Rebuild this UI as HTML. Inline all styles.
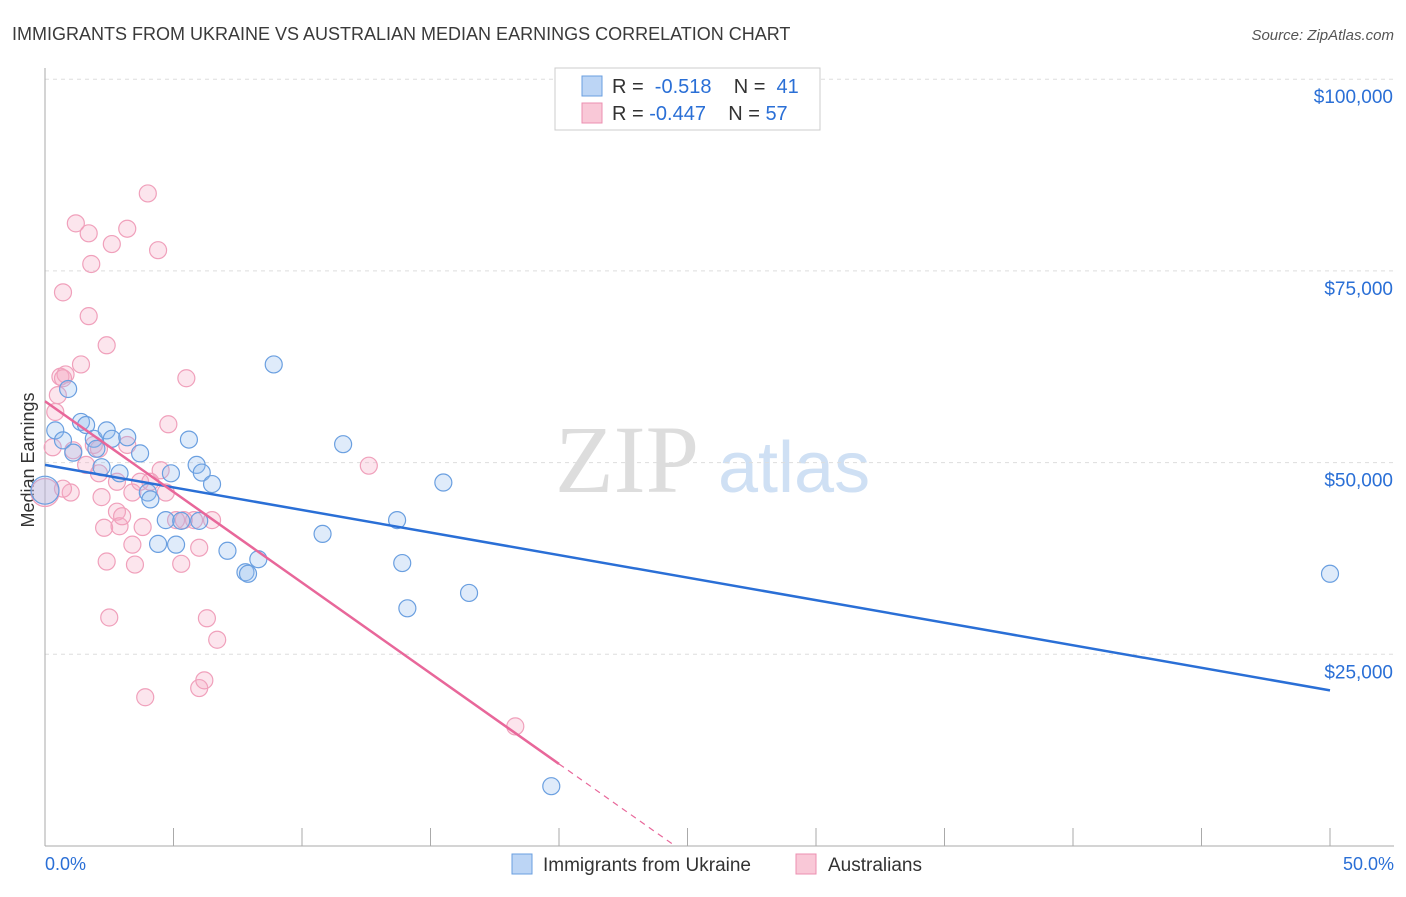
<!DOCTYPE html>
<html><head><meta charset="utf-8"><style>
body{margin:0;background:#fff;font-family:"Liberation Sans",sans-serif}
</style></head><body>
<svg id="c" width="1406" height="892" xmlns="http://www.w3.org/2000/svg">
<text x="12" y="40" font-size="18" fill="#3a3a3a">IMMIGRANTS FROM UKRAINE VS AUSTRALIAN MEDIAN EARNINGS CORRELATION CHART</text>
<text x="1394" y="40" font-size="15" fill="#555" text-anchor="end" font-style="italic">Source: ZipAtlas.com</text>
<text x="34" y="460" font-size="18" fill="#333" text-anchor="middle" transform="rotate(-90 34 460)">Median Earnings</text>
<text x="555" y="492" font-size="96" fill="#ddd" font-family="Liberation Serif">ZIP</text>
<text x="718" y="492" font-size="72" fill="#cfe0f4">atlas</text>
<g id="grid"></g><g id="pts"></g><g id="lines"></g>
<g>
<rect x="555" y="68" width="265" height="62" fill="#fff" stroke="#ccc"/>
<rect x="582" y="76" width="20" height="20" fill="#bcd5f5" stroke="#6a9fe0"/>
<rect x="582" y="103" width="20" height="20" fill="#f9c8d7" stroke="#ec8fb0"/>
<text x="612" y="93" font-size="20" fill="#333" xml:space="preserve">R =  <tspan fill="#2a6fd6">-0.518</tspan>    N =  <tspan fill="#2a6fd6">41</tspan></text>
<text x="612" y="120" font-size="20" fill="#333" xml:space="preserve">R = <tspan fill="#2a6fd6">-0.447</tspan>    N = <tspan fill="#2a6fd6">57</tspan></text>
</g>
<g>
<rect x="512" y="854" width="20" height="20" fill="#bcd5f5" stroke="#6a9fe0"/>
<text x="543" y="871" font-size="19" fill="#333">Immigrants from Ukraine</text>
<rect x="796" y="854" width="20" height="20" fill="#f9c8d7" stroke="#ec8fb0"/>
<text x="828" y="871" font-size="19" fill="#333">Australians</text>
</g>
<text x="45" y="870" font-size="18" fill="#2a6fd6">0.0%</text>
<text x="1394" y="870" font-size="18" fill="#2a6fd6" text-anchor="end">50.0%</text>
</svg>
<script>
const yTicks=[25000,50000,75000,100000];
const yTickLabels=["$25,000","$50,000","$75,000","$100,000"];
const blueX=[0.4,0.7,0.9,1.1,1.4,1.6,1.9,2.2,2.4,2.6,2.9,3.2,3.7,4.0,4.1,4.4,4.7,4.9,5.1,5.3,5.6,5.9,6.1,6.5,7.1,7.8,7.9,8.3,8.9,10.8,11.6,13.7,13.9,14.1,15.5,16.5,19.7,50.0,0.0,6.0,2.0];
const blueY=[54200,52900,59600,51300,55300,54900,53100,49400,54200,53100,48600,53300,51200,46100,45200,39400,42500,48600,39300,42400,53000,49700,48700,47200,38500,35700,35500,37400,62800,40700,52400,42500,36900,31000,47400,33000,7800,35500,46400,42400,51800];
const pinkX=[0.0,0.3,0.4,0.5,0.6,0.7,0.8,1.0,1.1,1.2,1.4,1.6,1.7,1.7,1.8,1.9,2.1,2.2,2.3,2.4,2.4,2.5,2.6,2.8,2.8,2.9,3.0,3.2,3.2,3.4,3.4,3.5,3.7,3.8,3.9,4.0,4.4,4.5,4.7,4.8,5.1,5.3,5.5,5.8,6.0,6.0,6.2,6.3,6.5,6.7,12.6,18.3,0.7,2.1,5.4,0.7,4.1];
const pinkY=[46100,52000,56600,58800,61200,72200,61500,46100,51600,81200,62800,49700,79900,69100,75900,52300,48600,45500,41500,37100,65300,29800,78500,43600,47500,41700,43000,52300,80500,39300,46100,36700,47500,41600,19400,85100,77700,49000,46100,55000,42500,36800,61000,42500,20600,38900,21600,29700,42500,26900,49600,15600,61000,51800,42500,46600,47500];
const blueFit=[[0,49700],[50,20300]], pinkFit=[[0,58000],[20,10700]];
const xS=v=>45+v*25.7, yS=v=>846-v*191.7/25000;
const NS="http://www.w3.org/2000/svg";
function mk(t,a,p){const e=document.createElementNS(NS,t);for(const k in a)e.setAttribute(k,a[k]);p.appendChild(e);return e;}
const g=document.getElementById('grid');
yTicks.forEach((t,i)=>{
 const l=mk('line',{x1:45,x2:1394,y1:yS(t),y2:yS(t),stroke:'#ddd','stroke-dasharray':'4 4'},g);
 
 
 const tx=mk('text',{x:1393,y:yS(t)+24,'font-size':19,fill:'#2a6fd6','text-anchor':'end'},g);
 tx.textContent=yTickLabels[i];
 
 
});
mk('line',{x1:45,x2:45,y1:68,y2:846,stroke:'#aaa'},g);
mk('line',{x1:45,x2:1394,y1:846,y2:846,stroke:'#aaa'},g);
for(let i=0;i<=10;i++){const t=mk('line',{x1:xS(i*5),x2:xS(i*5),y1:828,y2:846,stroke:'#aaa'},g);
 
 }
const p=document.getElementById('pts');
pinkX.forEach((x,i)=>{const c=mk('circle',{cx:xS(x),cy:yS(pinkY[i]),r:i==0?14:8.5,fill:'rgba(246,170,195,0.3)',stroke:'#f0a0bb','stroke-width':1.2},p);
 
 });
blueX.forEach((x,i)=>{const c=mk('circle',{cx:xS(x),cy:yS(blueY[i]),r:i==38?14:8.5,fill:'rgba(150,190,240,0.3)',stroke:'#6a9fe0','stroke-width':1.2},p);
 
 });
const L=document.getElementById('lines');
let b=mk('line',{x1:xS(blueFit[0][0]),y1:yS(blueFit[0][1]),x2:xS(blueFit[1][0]),y2:yS(blueFit[1][1]),stroke:'#2a6fd6','stroke-width':2.5},L);


let pk=mk('line',{x1:xS(pinkFit[0][0]),y1:yS(pinkFit[0][1]),x2:xS(pinkFit[1][0]),y2:yS(pinkFit[1][1]),stroke:'#e8679a','stroke-width':2.5},L);


const sl=(pinkFit[1][1]-pinkFit[0][1])/(pinkFit[1][0]-pinkFit[0][0]);
const xe=-pinkFit[0][1]/sl;
let d=mk('line',{x1:xS(pinkFit[1][0]),y1:yS(pinkFit[1][1]),x2:xS(xe),y2:yS(0),stroke:'#e8679a','stroke-width':1.2,'stroke-dasharray':'6 5'},L);


</script>
</body></html>
